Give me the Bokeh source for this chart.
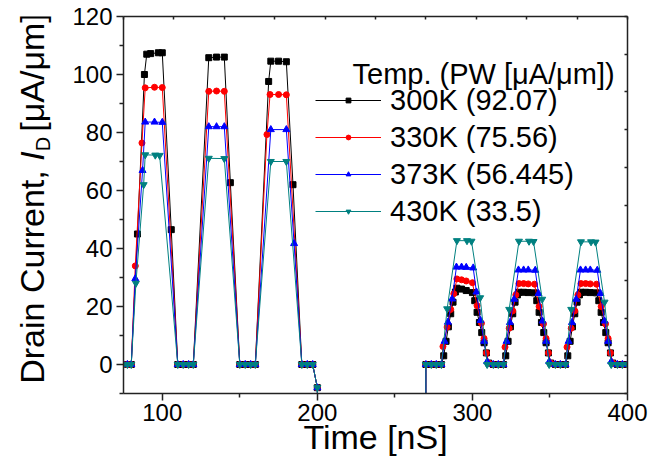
import math
from bokeh.plotting import figure
from bokeh.layouts import row
from bokeh.models import (Legend, LegendItem, LinearAxis, Range1d, FixedTicker, Label)
from bokeh.core.properties import value
from bokeh.embed import file_html
from bokeh.resources import INLINE

FONT = "Liberation Sans"

# ---------------- data ----------------
t_300 = [75, 77.5, 80, 84, 88.5, 90, 92.5, 97.5, 100, 105.8, 110, 113.5, 117, 120,
         130, 135, 140, 143.9, 150, 153.5, 157, 160, 168.6, 170, 175, 180, 184.3, 190,
         193.5, 197, 200, 200.3,
         269.7, 270, 273.5, 276.7, 280, 281.5, 283, 284.5, 286, 287.5, 289, 290, 293, 296, 300,
         301.5, 303, 304.5, 306, 307.5, 309, 310.5, 313.5, 316.7, 320,
         321.5, 323, 324.5, 326, 327.5, 329, 330, 333, 336, 340,
         341.5, 343, 344.5, 346, 347.5, 349, 350.5, 353.5, 356.7, 360,
         361.5, 363, 364.5, 366, 367.5, 369, 370, 373, 376, 380,
         381.5, 383, 384.5, 386, 387.5, 389, 390.5, 393.5, 396.7, 400]
v_300 = [0, 0, 0, 45, 100, 107, 107.2, 107.5, 107.5, 46.5, 0, 0, 0, 0,
         105.8, 106, 106, 62.7, 0, 0, 0, 0, 97.6, 104.6, 104.6, 104.4, 62, 0,
         0, 0, -8, -300,
         -300, 0, 0, 0, 0, 3, 8, 13, 17.5, 21.5, 25, 26.3, 26, 25.5, 24.8,
         22, 18, 14.5, 11, 7.5, 4, 0.5, 0, 0, 0,
         3, 8, 13, 17.5, 21.5, 24, 24.9, 24.9, 24.8, 24.7,
         22, 18, 14.5, 11, 7.5, 4, 0.5, 0, 0, 0,
         3, 8, 13, 17.5, 21.5, 24, 24.9, 24.9, 24.8, 24.7,
         22, 18, 14.5, 11, 7.5, 4, 0.5, 0, 0, 0]

t_330 = [75, 77.5, 80, 82.6, 86.9, 89, 95, 100, 110, 113.5, 117, 120,
         130, 135, 140, 150, 153.5, 157, 160, 167.5, 169.5, 175, 180, 190,
         193.5, 197, 200, 200.3,
         269.7, 270, 273.5, 276.7, 280, 281, 283.7, 286, 288, 290, 293, 296, 300,
         303, 305.8, 307.5, 309, 310.5, 313.5, 316.7, 320,
         321, 323.7, 326, 328, 330, 333, 336, 340,
         343, 345.8, 347.5, 349, 350.5, 353.5, 356.7, 360,
         361, 363.7, 366, 368, 370, 373, 376, 380,
         383, 385.8, 387.5, 389, 390.5, 393.5, 396.7, 400]
v_330 = [0, 0, 0, 34, 76.4, 95.4, 95.6, 95.5, 0, 0, 0, 0,
         94.2, 94.3, 94.2, 0, 0, 0, 0, 79.3, 93.1, 93.1, 93, 0,
         0, 0, -8, -300,
         -300, 0, 0, 0, 0, 6.2, 12.9, 19, 24.4, 29.5, 29.2, 28.8, 28.2,
         20.3, 14.2, 9, 4, 0.5, 0, 0, 0,
         6, 12.5, 18.5, 24, 27.9, 27.9, 27.8, 27.7,
         20, 14, 9, 4, 0.5, 0, 0, 0,
         6, 12.5, 18.5, 24, 27.9, 27.9, 27.8, 27.7,
         20, 14, 9, 4, 0.5, 0, 0, 0]

t_373 = [75, 77.5, 80, 82.6, 87.3, 89, 95, 100, 110, 113.5, 117, 120,
         130, 135, 140, 150, 153.5, 157, 160, 170, 180, 185, 190,
         193.5, 197, 200, 200.3,
         269.7, 270, 273.5, 276.7, 280, 282, 284.2, 286.9, 289.7, 293, 296, 300.5,
         302.6, 305.2, 307.5, 309.5, 313.5, 316.7, 320,
         322, 324.2, 326.9, 329.7, 333, 336, 340.5,
         342.6, 345.2, 347.5, 349.5, 353.5, 356.7, 360,
         362, 364.2, 366.9, 369.7, 373, 376, 380.5,
         382.6, 385.2, 387.5, 389.5, 393.5, 396.7, 400]
v_373 = [0, 0, 0, 29.6, 66.9, 83.6, 83.6, 83.5, 0, 0, 0, 0,
         82, 82, 82, 0, 0, 0, 0, 81, 81, 41.7, 0,
         0, 0, -8, -300,
         -300, 0, 0, 0, 0, 8, 14.6, 22.6, 33.6, 33.6, 33.5, 33.3,
         25, 15.2, 8, 1, 0, 0, 0,
         8, 14.5, 22.5, 32.6, 32.6, 32.6, 32.5,
         24.5, 15, 8, 1, 0, 0, 0,
         8, 14.5, 22.5, 32.6, 32.6, 32.6, 32.5,
         24.5, 15, 8, 1, 0, 0, 0]

t_430 = [75, 77.5, 80, 83, 88, 89, 95.5, 98.3, 110, 113.5, 117, 120,
         130, 140, 150, 153.5, 157, 160, 170, 180, 190,
         193.5, 197, 200, 200.3,
         269.7, 270, 273.5, 276.7, 280, 283.7, 290, 296.5, 299.4, 305, 309.5,
         313.5, 316.7, 320, 323.7, 330, 336.5, 339.4, 345, 349.5,
         353.5, 356.7, 360, 363.7, 370, 376.5, 379.4, 385.2, 389.5,
         393.5, 396.7, 400]
v_430 = [0, 0, 0, 28, 62, 72.3, 72.2, 72.1, 0, 0, 0, 0,
         71.1, 71, 0, 0, 0, 0, 70, 70, 0,
         0, 0, -8, -300,
         -300, 0, 0, 0, 0, 19.2, 42.7, 42.7, 42.5, 23, 0,
         0, 0, 0, 19, 42.5, 42.5, 42.4, 22.5, 0,
         0, 0, 0, 19, 42.3, 42.3, 42.2, 21.5, 0,
         0, 0, 0]

series_labels = ["300K (92.07)", "330K (75.56)", "373K (56.445)", "430K (33.5)"]
legend_title = "Temp. (PW [\u03bcA/\u03bcm])"
x_title = "Time [nS]"
y_title_parts = ["Drain Current,", "I", "D", "[\u03bcA/\u03bcm]"]
x_ticks = [100, 200, 300, 400]
x_minor = [150, 250, 350]
y_ticks = [0, 20, 40, 60, 80, 100, 120]
y_minor = [-10, 10, 30, 50, 70, 90, 110]

TOP, BOTTOM = 16, 77   # borders above / below the plotting frame
FRAME_H = 470 - TOP - BOTTOM

# ---------------- main figure ----------------
LW = 60  # width of the side strip holding the y title
p = figure(width=662 - LW, height=470, x_range=Range1d(75, 400), y_range=Range1d(-10, 120),
           output_backend="svg", toolbar_location=None,
           min_border_left=123 - LW, min_border_right=35, min_border_top=TOP,
           min_border_bottom=BOTTOM)
p.outline_line_color = None
p.grid.visible = False

AX = "#222222"
for ax in (p.xaxis[0], p.yaxis[0]):
    ax.axis_line_color = AX
    ax.axis_line_width = 1.5
    ax.major_tick_line_color = AX
    ax.minor_tick_line_color = AX
    ax.major_tick_line_width = 1.5
    ax.minor_tick_line_width = 1.5
    ax.major_tick_in = 0
    ax.major_tick_out = 7
    ax.minor_tick_in = 0
    ax.minor_tick_out = 4
    ax.major_label_text_font = FONT
    ax.major_label_text_font_size = "24px"
    ax.major_label_text_color = "black"
p.xaxis[0].ticker = FixedTicker(ticks=x_ticks, minor_ticks=x_minor)
p.yaxis[0].ticker = FixedTicker(ticks=y_ticks, minor_ticks=y_minor)
p.xaxis[0].major_label_standoff = 3
p.yaxis[0].major_label_standoff = 4
p.xaxis[0].axis_label = x_title
p.xaxis[0].axis_label_text_font = FONT
p.xaxis[0].axis_label_text_font_size = "34px"
p.xaxis[0].axis_label_text_font_style = "normal"
p.xaxis[0].axis_label_text_color = "black"
p.xaxis[0].axis_label_standoff = -6

# frame: top and right axes with inward ticks, no labels
p.extra_x_ranges = {"top": Range1d(0, 10)}
p.extra_y_ranges = {"right": Range1d(0, 10)}
frame_ax = dict(major_tick_in=3, major_tick_out=0, minor_tick_in=0, minor_tick_out=0,
                major_label_text_color=None, major_label_standoff=0,
                axis_line_color=AX, axis_line_width=1.5, major_tick_line_color=AX,
                major_tick_line_width=1.5)
p.add_layout(LinearAxis(x_range_name="top", ticker=FixedTicker(ticks=list(range(11))), **frame_ax), "above")
p.add_layout(LinearAxis(y_range_name="right", ticker=FixedTicker(ticks=list(range(11))), **frame_ax), "right")

# ---------------- series ----------------
specs = [
    (t_300, v_300, "#000000", "square", 6),
    (t_330, v_330, "#ff0000", "circle", 6),
    (t_373, v_373, "#0000ff", "triangle", 7),
    (t_430, v_430, "#008080", "inverted_triangle", 7),
]
items = []
for (t, v, col, mk, sz), lab in zip(specs, series_labels):
    ln = p.line(t, v, line_color=col, line_width=1)
    sc = p.scatter(t, v, marker=mk, size=sz, fill_color=col, line_color=col)
    items.append(LegendItem(label=lab, renderers=[ln, sc]))

legend = Legend(items=items, location=(192, 165), padding=0, margin=0,
                border_line_color=None, background_fill_alpha=0,
                label_text_font=FONT, label_text_font_size="29px", label_text_color="black",
                glyph_width=66, glyph_height=12, label_height=34, label_standoff=9,
                spacing=3)
p.add_layout(legend)
p.add_layout(Label(x=229, y=320, x_units="screen", y_units="screen", text=legend_title,
                   text_font=FONT, text_font_size="29px", text_color="black",
                   text_baseline="alphabetic"))

# ---------------- y title strip (frame aligned with the main frame, pixel units) ----------------
s = figure(width=LW, height=470, x_range=Range1d(0, LW), y_range=Range1d(0, FRAME_H),
           output_backend="svg", toolbar_location=None, x_axis_type=None, y_axis_type=None,
           min_border_left=0, min_border_right=0, min_border_top=TOP, min_border_bottom=BOTTOM)
s.outline_line_color = None
s.grid.visible = False
ang = math.pi / 2
common = dict(angle=ang, text_font=value(FONT), text_color="black",
              text_baseline="middle", text_align="center")
s.text(x=[31], y=[116.5], text=[y_title_parts[0]], text_font_size="34px", **common)
s.text(x=[31], y=[237.5], text=[y_title_parts[1]], text_font_size="34px",
       text_font_style="italic", **common)
s.text(x=[42], y=[249.5], text=[y_title_parts[2]], text_font_size="20px", **common)
s.text(x=[31], y=[321], text=[y_title_parts[3]], text_font_size="34px", **common)

layout = row(s, p, spacing=0)
open("out.html", "w").write(file_html(layout, INLINE))
